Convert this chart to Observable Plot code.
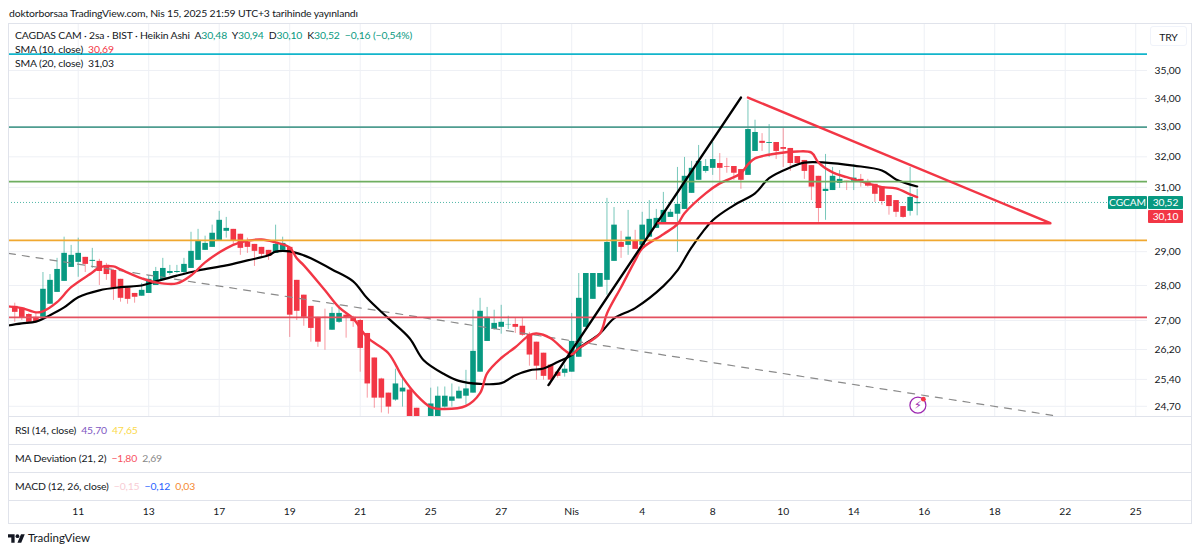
<!DOCTYPE html>
<html lang="tr">
<head>
<meta charset="utf-8">
<script src="https://cdn.jsdelivr.net/npm/d3@7"></script>
<script src="https://cdn.jsdelivr.net/npm/@observablehq/plot@0.6"></script>
<style>
  html,body{margin:0;padding:0;background:#fff;}
  #page{position:relative;width:1200px;height:553px;overflow:hidden;font-family:Lato,"Noto Sans",sans-serif;color:#131722;}
  #chart{position:absolute;left:0;top:0;}
  .t{position:absolute;white-space:pre;font-size:10.4px;letter-spacing:-0.15px;line-height:14px;}
  .hl{position:absolute;left:8px;width:1184px;height:1px;background:#e0e3eb;}
  .vl{position:absolute;width:1px;background:#e0e3eb;}
  .box{position:absolute;color:#fff;font-size:10.2px;letter-spacing:-0.1px;line-height:13px;text-align:center;border-radius:1px;}
  .g{color:#089981}
</style>
</head>
<body>
<div id="page">
  <div id="chart"></div>
  <div class="hl" style="top:23px;"></div>
  <div class="hl" style="top:416px;"></div>
  <div class="hl" style="top:444px;"></div>
  <div class="hl" style="top:472px;"></div>
  <div class="hl" style="top:500px;"></div>
  <div class="hl" style="top:523px;"></div>
  <div class="vl" style="left:8px;top:23px;height:500px;"></div>
  <div class="vl" style="left:1191px;top:23px;height:500px;"></div>

  <div class="t" style="left:9px;top:6px;">doktorborsaa TradingView.com, Nis 15, 2025 21:59 UTC+3 tarihinde yayınlandı</div>
  <div class="t" style="left:15px;top:28px;">CAGDAS CAM · 2sa · BIST · Heikin Ashi  A<span class="g">30,48</span>  Y<span class="g">30,94</span>  D<span class="g">30,10</span>  K<span class="g">30,52</span>  <span class="g">−0,16 (−0,54%)</span></div>
  <div class="t" style="left:15px;top:42px;">SMA (10, close)  <span style="color:#f23645">30,69</span></div>
  <div class="t" style="left:15px;top:56px;">SMA (20, close)  31,03</div>
  <div class="t" style="left:15px;top:423px;">RSI (14, close)  <span style="color:#7e57c2">45,70</span>  <span style="color:#fbd94a">47,65</span></div>
  <div class="t" style="left:15px;top:451px;">MA Deviation (21, 2)  <span style="color:#f7525f">−1,80</span>  <span style="color:#888">2,69</span></div>
  <div class="t" style="left:15px;top:479px;">MACD (12, 26, close)  <span style="color:#f8ccd4">−0,15</span>  <span style="color:#2962ff">−0,12</span>  <span style="color:#f5892f">0,03</span></div>

  <div class="t" style="left:1150px;top:26px;width:37px;height:20px;line-height:20px;text-align:center;border:1px solid #f0f3fa;border-radius:3px;box-sizing:border-box;">TRY</div>
  <div class="box" style="left:1108px;top:196px;width:39px;height:13px;background:#089981;">CGCAM</div>
  <div class="box" style="left:1148px;top:196px;width:35px;height:13px;background:#089981;">30,52</div>
  <div class="box" style="left:1148px;top:210px;width:35px;height:13px;background:#f23645;">30,10</div>

  <svg style="position:absolute;left:8px;top:534px;" width="17" height="9" viewBox="0 4 36 18"><path fill="#131722" d="M14 22H7V11H0V4h14v18zM28 22h-8l7.5-18h8L28 22z"/><circle cx="20" cy="8" r="4" fill="#131722"/></svg>
  <div class="t" style="left:28px;top:531px;font-size:11.5px;letter-spacing:0;">TradingView</div>
</div>
<script>
const firstBar = -9;
const opens = [
27.40,27.35,27.17,27.09,27.09,27.46,27.80,28.12,28.53,28.68,
28.83,28.71,28.71,28.59,28.44,28.18,27.92,27.77,27.69,27.77,
28.00,28.15,28.35,28.38,28.38,28.50,28.74,29.04,29.13,29.34,
29.62,29.68,29.53,29.28,29.22,29.13,29.04,28.95,29.04,29.13,
28.15,27.72,27.40,27.09,27.09,26.73,26.95,27.15,27.09,27.00,
26.64,25.97,25.41,25.04,24.86,25.07,25.12,24.65,24.40,24.40,
24.43,24.68,24.83,24.89,24.96,25.04,25.59,26.42,26.75,26.81,
26.88,26.89,26.84,26.62,26.40,26.10,25.78,25.59,25.56,25.59,
25.99,26.81,27.60,27.95,28.15,28.71,29.28,29.19,29.34,29.19,
29.44,29.71,29.87,30.05,30.15,30.30,30.81,31.23,31.52,31.62,
31.78,31.68,31.68,31.58,31.39,32.18,32.52,32.45,32.48,32.31,
32.28,32.01,31.88,31.71,31.36,30.87,30.90,31.13,31.20,31.20,
31.26,31.17,31.10,31.01,30.74,30.58,30.39,30.24,30.48];
const highs = [
27.49,27.37,27.20,27.23,28.38,28.32,28.80,29.44,29.19,29.41,
28.83,29.10,28.77,28.65,28.47,28.18,27.95,27.77,28.06,28.29,
28.53,28.80,28.59,28.59,28.80,29.59,29.68,29.47,29.81,30.24,
30.05,29.68,29.53,29.41,29.22,29.13,29.04,29.81,29.44,29.13,
28.15,27.72,27.40,27.09,27.32,27.37,27.43,27.20,27.12,27.03,
26.64,25.97,25.43,25.04,25.67,25.48,25.15,24.65,24.42,25.17,
25.20,25.20,25.28,25.20,25.64,27.29,27.63,27.37,27.29,27.43,
27.12,27.06,27.06,26.67,26.40,26.10,25.78,25.59,25.78,27.20,
28.35,28.35,28.35,28.35,30.65,30.36,29.62,30.27,29.65,30.21,
30.58,30.30,30.84,30.30,31.65,31.98,31.85,32.38,31.91,32.48,
32.11,31.95,31.68,31.58,33.93,33.24,32.78,33.09,32.48,32.95,
32.28,32.01,31.88,31.71,31.36,32.08,31.65,31.55,31.20,31.75,
31.42,31.26,31.10,31.01,30.74,30.58,30.39,31.65,30.94];
const lows = [
26.95,27.00,26.92,26.92,27.06,27.46,27.80,28.12,28.53,28.24,
28.38,28.50,28.00,28.15,27.57,27.52,27.46,27.49,27.69,27.77,
28.00,28.15,28.29,28.35,28.35,28.50,28.74,29.04,29.13,29.34,
29.41,29.19,28.89,28.95,28.56,28.83,28.74,28.95,29.01,26.53,
27.00,26.84,26.40,26.26,26.18,26.73,26.92,26.51,26.81,25.59,
24.91,24.65,24.53,24.50,24.83,24.68,24.25,24.20,24.20,24.30,
24.35,24.65,24.68,24.89,24.73,25.04,25.59,26.42,26.73,26.62,
26.75,26.64,26.56,25.75,25.38,25.38,25.25,25.43,25.46,25.59,
25.99,26.81,27.60,27.95,27.72,28.71,28.80,28.89,29.07,29.19,
29.44,29.71,29.87,30.05,28.98,30.30,30.81,31.23,31.46,31.39,
31.20,31.46,31.23,30.94,31.39,32.18,32.18,31.98,31.91,31.65,
31.52,31.75,31.26,30.58,29.90,29.96,30.90,30.97,30.90,30.90,
31.01,31.01,30.52,30.43,30.12,30.05,30.02,30.09,30.10];
const closes = [
27.23,27.06,26.95,26.97,27.89,28.15,28.47,28.95,28.89,28.95,
28.62,28.74,28.41,28.32,27.92,27.63,27.60,27.66,27.86,28.18,
28.41,28.50,28.41,28.41,28.62,29.01,29.34,29.25,29.56,29.96,
29.71,29.34,29.10,29.13,29.01,28.92,28.86,29.22,29.25,27.15,
27.26,27.09,26.78,26.40,27.06,27.20,27.20,27.06,26.97,26.23,
25.28,24.91,24.91,24.68,25.28,25.17,24.35,24.28,24.30,24.76,
24.96,24.96,24.94,25.09,25.15,26.15,27.26,27.09,26.92,26.95,
26.89,26.81,26.59,26.05,25.75,25.48,25.38,25.48,25.67,26.42,
27.63,28.35,28.35,28.35,29.28,29.81,29.13,29.44,29.07,29.81,
29.99,30.02,30.27,30.21,30.46,31.36,31.62,31.85,31.68,31.91,
31.62,31.66,31.46,31.23,32.92,32.82,32.45,32.48,32.18,32.25,
31.78,31.78,31.52,31.01,30.33,30.94,31.36,31.26,31.17,31.30,
31.20,31.04,30.78,30.55,30.39,30.21,30.05,30.68,30.52];

const sma10Bars = [-10,-8,-6,-5,-3,-1,2,3,5,6,9,11,14,16,18,21,23,26,28,30,31,32,35,37,39,41,44,46,48,50,52,55,57,58,60,62,64,65,67,69,70,71,74,75,77,79,80,83,85,86,89,91,94,95,96,99,102,104,105,107,109,112,114,116,118,119];
const sma10Vals = [27.40,27.35,27.23,27.26,27.52,27.95,28.38,28.53,28.56,28.47,28.21,28.09,28.06,28.29,28.68,29.10,29.28,29.37,29.28,29.13,28.80,28.59,27.86,27.37,27.06,26.53,26.10,25.46,24.99,24.68,24.63,24.71,25.04,25.56,25.97,26.26,26.59,26.64,26.51,26.18,26.07,26.23,26.64,27.20,27.95,28.74,29.10,29.53,29.84,30.18,30.81,31.13,31.46,31.75,31.95,32.11,32.18,32.14,31.81,31.49,31.33,31.13,31.01,30.97,30.78,30.69];
const sma20Bars = [-10,-8,-6,-4,-2,0,3,6,9,11,14,17,21,24,27,28,30,32,33,36,39,41,44,47,49,52,54,57,60,62,64,66,68,70,71,74,76,79,83,85,87,90,93,96,98,101,103,106,110,114,116,119];
const sma20Vals = [26.86,26.92,26.97,27.15,27.37,27.66,27.86,27.95,28.00,28.12,28.29,28.44,28.59,28.74,28.89,29.00,29.01,28.89,28.80,28.47,28.12,27.63,27.06,26.51,25.91,25.53,25.36,25.28,25.30,25.51,25.64,25.69,25.86,26.05,26.23,26.64,27.06,27.35,27.98,28.44,29.13,29.96,30.43,30.81,31.30,31.65,31.81,31.81,31.71,31.55,31.26,31.03];

const levelPrices = [35.60, 33.00, 31.19, 29.34, 27.09];
const levelColors = ["#12b5cb", "#4f9d90", "#6fae60", "#f0a830", "#e4505f"];

const wedgeBars = [82.3, 137.9, 95];
const wedgePrices = [29.87, 29.87, 34.03];
const trendBars = [66.7, 94];
const trendPrices = [25.25, 34.03];
const dashBars = [-9.9, 138.2];
const dashPrices = [28.95, 24.47];

const priceTicks = [35, 34, 33, 32, 31, 29, 28, 27, 26.2, 25.4, 24.7];
const timeLabels = ["11","13","17","19","21","25","27","Nis","4","8","10","14","16","18","22","25"];
const timeBars = timeLabels.map((_, k) => k * 10);
const lastPrice = 30.52;
const eventBar = 119.1, eventPrice = 24.73;

const bars = opens.map((o, k) => ({i: firstBar + k, open: o, high: highs[k], low: lows[k], close: closes[k]}));
const up = bars.filter(d => d.close >= d.open);
const down = bars.filter(d => d.close < d.open);
const GREEN = "#089981", RED = "#f23645";
const zip = (xs, ys) => xs.map((x, k) => ({x, y: ys[k]}));
const levels = levelPrices.map((p, k) => ({p, c: levelColors[k]}));

const chart = Plot.plot({
  width: 1200, height: 553,
  marginLeft: 8, marginRight: 53, marginTop: 23, marginBottom: 137,
  style: {background: "transparent", fontFamily: 'Lato, "Noto Sans", sans-serif', fontSize: "10.3px", color: "#131722"},
  x: {type: "linear", domain: [-9.887, 151.67], label: null},
  y: {type: "log", domain: [24.44, 36.75], label: null},
  marks: [
    Plot.gridX(timeBars, {stroke: "#eef0f5", strokeOpacity: 1}),
    Plot.gridY(priceTicks, {stroke: "#eef0f5", strokeOpacity: 1}),
    Plot.axisX(timeBars, {tickSize: 0, tickPadding: 91, tickFormat: d => timeLabels[d / 10], fill: "#131722", label: null}),
    Plot.axisY(priceTicks, {anchor: "right", tickSize: 0, tickPadding: 7, tickFormat: d => d.toFixed(2).replace(".", ","), fill: "#131722", label: null}),
    Plot.ruleY([lastPrice], {stroke: GREEN, strokeOpacity: 0.7, strokeWidth: 1, strokeDasharray: "1,2"}),
    Plot.ruleX(up, {x: "i", y1: "low", y2: "high", stroke: GREEN, strokeOpacity: 0.55, clip: true}),
    Plot.ruleX(down, {x: "i", y1: "low", y2: "high", stroke: RED, strokeOpacity: 0.5, clip: true}),
    Plot.ruleX(up, {x: "i", y1: "open", y2: "close", stroke: GREEN, strokeWidth: 5.6, clip: true}),
    Plot.ruleX(down, {x: "i", y1: "open", y2: "close", stroke: RED, strokeWidth: 5.6, clip: true}),
    Plot.line(zip(dashBars, dashPrices), {x: "x", y: "y", stroke: "#8a8a8a", strokeWidth: 1.2, strokeDasharray: "7,7", clip: true}),
    Plot.line(zip(sma20Bars, sma20Vals), {x: "x", y: "y", stroke: "#000", strokeWidth: 2.2, curve: "catmull-rom", clip: true}),
    Plot.line(zip(sma10Bars, sma10Vals), {x: "x", y: "y", stroke: RED, strokeWidth: 2.4, curve: "catmull-rom", clip: true}),
    Plot.ruleY(levels, {y: "p", stroke: "c", strokeWidth: 1.7}),
    Plot.line(zip(trendBars, trendPrices), {x: "x", y: "y", stroke: "#000", strokeWidth: 2.4}),
    Plot.line(zip(wedgeBars, wedgePrices), {x: "x", y: "y", stroke: RED, strokeWidth: 2.4}),
    Plot.dot([{x: eventBar, y: eventPrice}], {x: "x", y: "y", r: 8, stroke: "#9c27b0", strokeWidth: 1.2, fill: "#fff"}),
    Plot.text([{x: eventBar, y: eventPrice}], {x: "x", y: "y", text: () => "⚡", fill: "#9c27b0", fontSize: 11, fontFamily: "DejaVu Sans"}),
    Plot.dot([{x: eventBar, y: eventPrice}], {x: "x", y: "y", r: 2.4, fill: RED, dx: 5.5, dy: -6})
  ]
});
document.getElementById("chart").appendChild(chart);
</script>
</body>
</html>
